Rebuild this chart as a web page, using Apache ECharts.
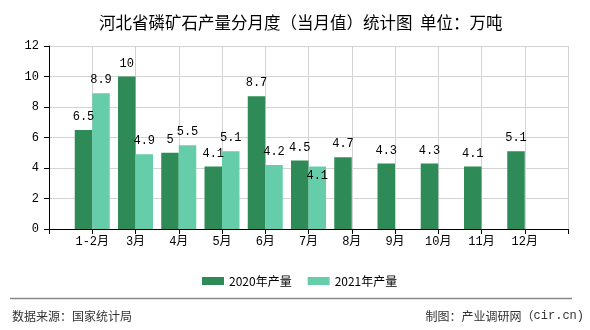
<!DOCTYPE html>
<html>
<head>
<meta charset="utf-8">
<script src="https://cdn.jsdelivr.net/npm/echarts@6/dist/echarts.min.js"></script>
<style>
  html, body { margin: 0; padding: 0; background: #fff; }
  #chart { width: 590px; height: 330px; }
</style>
</head>
<body>
<div id="chart"></div>
<script>
// Monthly phosphate rock output of Hebei province (10k tonnes)
const months = ['1-2月', '3月', '4月', '5月', '6月', '7月', '8月', '9月', '10月', '11月', '12月'];
const output2020 = [6.5, 10, 5, 4.1, 8.7, 4.5, 4.7, 4.3, 4.3, 4.1, 5.1];
const output2021 = [8.9, 4.9, 5.5, 5.1, 4.2, 4.1];
const yTicks = { min: 0, max: 12, step: 2 };

const seriesNames = ['2020年产量', '2021年产量'];
const colors = ['#2e8b57', '#66cdaa'];

// the axis carries an empty slot at each end so the month groups sit on the ticks
const cats = [''].concat(months, ['']);
function pad(arr) {
  const out = [null];
  for (let i = 0; i < months.length; i++) out.push(i < arr.length ? arr[i] : null);
  out.push(null);
  return out;
}

const monoFont = '"Liberation Mono", "Noto Sans CJK SC", monospace';
const cjkFont = '"Noto Sans CJK SC", "Liberation Sans", sans-serif';

const data2021 = pad(output2021).map(function (v, i) {
  // the July 2021 label sits inside its bar
  if (cats[i] === '7月' && v != null) {
    return { value: v, label: { position: 'insideTop', distance: 3 } };
  }
  return v;
});

const chart = echarts.init(document.getElementById('chart'), null, { renderer: 'canvas' });
chart.setOption({
  animation: false,
  backgroundColor: '#fff',
  title: {
    text: '河北省磷矿石产量分月度（当月值）统计图  单位：万吨',
    left: 94,
    top: 9,
    textStyle: { fontSize: 16.5, fontWeight: 'normal', color: '#000', fontFamily: cjkFont }
  },
  legend: {
    data: seriesNames,
    left: 197,
    top: 270,
    icon: 'rect',
    itemWidth: 22,
    itemHeight: 8,
    itemGap: 16,
    textStyle: { fontSize: 12, color: '#000', fontFamily: cjkFont }
  },
  grid: { left: 49, right: 22, top: 46, bottom: 101, containLabel: false },
  xAxis: {
    type: 'category',
    data: cats,
    boundaryGap: false,
    axisLine: { lineStyle: { color: '#000', width: 1 } },
    axisTick: { show: true, length: 5, lineStyle: { color: '#000' } },
    axisLabel: { color: '#000', fontSize: 12, margin: 7, fontFamily: monoFont, interval: 0 },
    splitLine: { show: true, lineStyle: { color: '#d3d3d3', width: 1 } }
  },
  yAxis: {
    type: 'value',
    min: yTicks.min,
    max: yTicks.max,
    interval: yTicks.step,
    axisLine: { show: true, lineStyle: { color: '#000', width: 1 } },
    axisTick: { show: true, length: 5, lineStyle: { color: '#000' } },
    axisLabel: { color: '#000', fontSize: 12, margin: 10, fontFamily: monoFont },
    splitLine: { show: true, lineStyle: { color: '#d3d3d3', width: 1 } }
  },
  series: [
    {
      name: seriesNames[0],
      type: 'bar',
      data: pad(output2020),
      barWidth: 17.5,
      barGap: '0%',
      itemStyle: { color: colors[0] },
      label: { show: true, position: 'top', distance: 7, color: '#000', fontSize: 12, fontFamily: monoFont }
    },
    {
      name: seriesNames[1],
      type: 'bar',
      data: data2021,
      barWidth: 17.5,
      barGap: '0%',
      itemStyle: { color: colors[1] },
      label: { show: true, position: 'top', distance: 7, color: '#000', fontSize: 12, fontFamily: monoFont }
    }
  ],
  graphic: [
    {
      type: 'line',
      shape: { x1: 10, y1: 298.5, x2: 572, y2: 298.5 },
      style: { stroke: '#888', lineWidth: 1.5 }
    },
    {
      type: 'text',
      left: 12,
      top: 310,
      style: { text: '数据来源：国家统计局', fill: '#333', font: '12px ' + cjkFont }
    },
    {
      type: 'text',
      right: 6,
      top: 310,
      style: {
        text: '{a|制图：产业调研网（}{b|cir.cn)}',
        rich: {
          a: { fill: '#333', fontSize: 12, fontFamily: cjkFont },
          b: { fill: '#333', fontSize: 12, fontFamily: monoFont }
        }
      }
    }
  ]
});
</script>
</body>
</html>
